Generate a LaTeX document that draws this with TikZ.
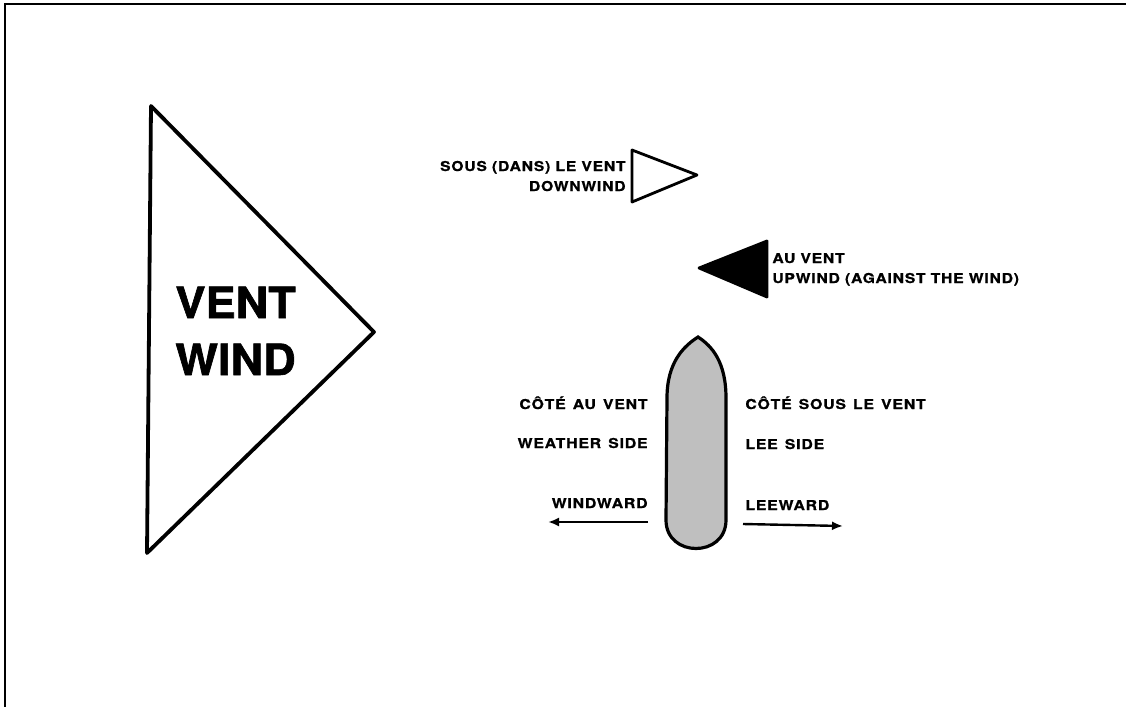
\documentclass[tikz,border=0pt]{standalone}
\usepackage{fontspec}
\setmainfont{TeX Gyre Heros}
\newfontfamily\lblfont[FakeStretch=1.15,LetterSpace=6,FakeBold=1]{TeX Gyre Heros}
\newfontfamily\sidefont[FakeStretch=1.16,LetterSpace=6.2,FakeBold=1.01,WordSpace=1.35]{TeX Gyre Heros}
\newfontfamily\bigfont[FakeStretch=1.05,FakeBold=1.5]{TeX Gyre Heros}
\usetikzlibrary{arrows.meta}
\tikzset{
	lbl/.style={font={\lblfont\bfseries\fontsize{6.8pt}{10pt}\selectfont}, inner sep=0pt},
	sidelbl/.style={font={\sidefont\bfseries\fontsize{6.8pt}{10pt}\selectfont}, inner sep=0pt},
	biglbl/.style={font={\bigfont\bfseries\fontsize{21.5pt}{26pt}\selectfont}, inner sep=0pt},
	pennant/.style={draw, line width=1.4pt, line join=round},
	hull/.style={draw, line width=1.6pt, fill=gray!50},
	sidearrow/.style={line width=1.2pt, -{Latex[length=5.5pt,width=4.5pt]}}
}

\begin{document}
\begin{tikzpicture}[x=0.5pt,y=-0.5pt]
	\useasboundingbox (0,0) rectangle (1126,707);
	% frame
	\draw[line width=1pt] (5,707) -- (5,4) -- (1126,4);
	% wind flag
	\draw[pennant, line width=1.9pt] (151,106) -- (374,332) -- (147,553) -- cycle;
	\node[biglbl, anchor=base west] (vent) at (175,318) {VENT};
	\node[biglbl, anchor=base west] (wind) at (175,375) {WIND};
	% downwind / upwind
	\draw[pennant] (632,150) -- (697,175) -- (632,202) -- cycle;
	\node[lbl, anchor=base east] (sous) at (626,171) {SOUS (DANS) LE VENT};
	\node[lbl, anchor=base east] (downwind) at (626,191) {DOWNWIND};
	\draw[pennant, fill=black] (767,241) -- (699,268) -- (767,297) -- cycle;
	\node[lbl, anchor=base west] (auvent) at (772,263) {AU VENT};
	\node[lbl, anchor=base west] (upwind) at (772,283) {UPWIND (AGAINST THE WIND)};
	% boat
	\draw[hull] (666,520) -- (667,398) .. controls (667,362) and (684,346) .. (698,337)
		.. controls (712,346) and (726,362) .. (726,398) -- (726,520)
		.. controls (726,558) and (666,558) .. cycle;
	\node[sidelbl, anchor=base east] (coteauvent) at (648,409) {CÔTÉ AU VENT};
	\node[sidelbl, anchor=base east] (weather) at (648,448) {WEATHER SIDE};
	\node[sidelbl, anchor=base east] (windward) at (648,508) {WINDWARD};
	\node[sidelbl, anchor=base west] (cotesous) at (745,409) {CÔTÉ SOUS LE VENT};
	\node[sidelbl, anchor=base west] (lee) at (745,449) {LEE SIDE};
	\node[sidelbl, anchor=base west] (leeward) at (745,510) {LEEWARD};
	\coordinate (wwfrom) at (648,522);
	\coordinate (wwto) at (548,522);
	\coordinate (lwfrom) at (743,524);
	\coordinate (lwto) at (843,526);
	\draw[sidearrow] (wwfrom) -- (wwto);
	\draw[sidearrow] (lwfrom) -- (lwto);
\end{tikzpicture}
\end{document}
